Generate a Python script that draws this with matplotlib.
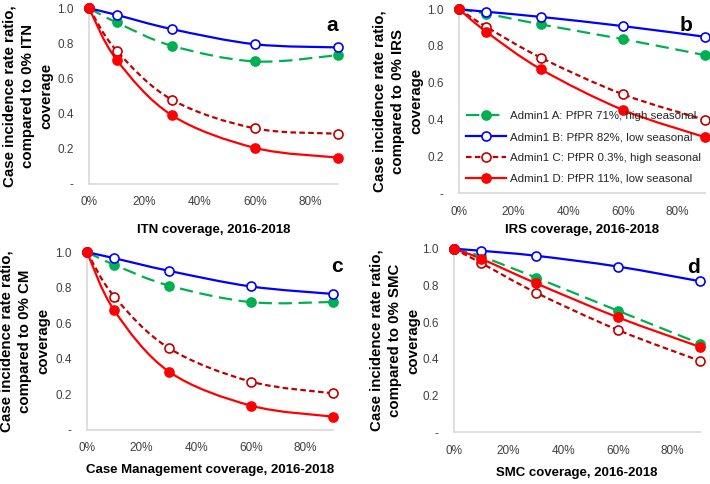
import numpy as np
import matplotlib
matplotlib.use("Agg")
import matplotlib.pyplot as plt
from matplotlib.path import Path
from matplotlib.patches import PathPatch
from matplotlib.lines import Line2D
from matplotlib.ticker import FuncFormatter

plt.rcParams["font.family"] = ["Liberation Sans", "DejaVu Sans"]

# coverage levels
coverage = [0.0, 0.1, 0.3, 0.6, 0.9]

# ITN (panel a)
itn_a = [1.0, 0.919, 0.786, 0.697, 0.733]
itn_b = [1.0, 0.962, 0.881, 0.795, 0.777]
itn_c = [1.0, 0.758, 0.479, 0.316, 0.286]
itn_d = [1.0, 0.706, 0.390, 0.205, 0.150]

# IRS (panel b)
irs_a = [1.0, 0.976, 0.917, 0.837, 0.750]
irs_b = [1.0, 0.986, 0.958, 0.908, 0.850]
irs_c = [1.0, 0.904, 0.736, 0.537, 0.398]
irs_d = [1.0, 0.877, 0.673, 0.452, 0.304]

# Case management (panel c)
cm_a = [1.0, 0.929, 0.812, 0.719, 0.720]
cm_b = [1.0, 0.966, 0.895, 0.807, 0.765]
cm_c = [1.0, 0.750, 0.460, 0.272, 0.206]
cm_d = [1.0, 0.672, 0.328, 0.137, 0.075]

# SMC (panel d)
smc_a = [1.0, 0.958, 0.843, 0.662, 0.483]
smc_b = [1.0, 0.989, 0.962, 0.903, 0.823]
smc_c = [1.0, 0.922, 0.761, 0.557, 0.389]
smc_d = [1.0, 0.945, 0.812, 0.626, 0.465]

labels = ["Admin1 A: PfPR 71%, high seasonal",
          "Admin1 B: PfPR 82%, low seasonal",
          "Admin1 C: PfPR 0.3%, high seasonal",
          "Admin1 D: PfPR 11%, low seasonal"]

styles = [
    dict(color="#00B050", ls=(0, (6, 3)), mfc="#00B050"),
    dict(color="#0000FF", ls="-", mfc="white"),
    dict(color="#C00000", ls=(0, (2.5, 1.5)), mfc="white"),
    dict(color="#FF0000", ls="-", mfc="#FF0000"),
]


def smooth_path(ax, xs, ys, color, ls):
    # Excel-like smoothed line: cubic Bezier through the points
    pts = np.column_stack([xs, ys])
    verts = [pts[0]]
    codes = [Path.MOVETO]
    n = len(pts)
    for i in range(n - 1):
        p0 = pts[i - 1] if i > 0 else pts[i]
        p1, p2 = pts[i], pts[i + 1]
        p3 = pts[i + 2] if i + 2 < n else pts[i + 1]
        c1 = p1 + (p2 - p0) / 6.0
        c2 = p2 - (p3 - p1) / 6.0
        verts += [c1, c2, p2]
        codes += [Path.CURVE4] * 3
    patch = PathPatch(Path(verts, codes), fill=False, edgecolor=color,
                      linestyle=ls, linewidth=1.6, clip_on=False)
    ax.add_patch(patch)


# rect, series, letter, short name, xlabel, ylabel x, xlabel y, letter pos
panels = [
    ([0.1254, 0.620, 0.3506, 0.363], [itn_a, itn_b, itn_c, itn_d], "a", "ITN",
     "ITN coverage, 2016-2018", -0.245, -0.26, (1.0, 0.90)),
    ([0.6465, 0.601, 0.3465, 0.380], [irs_a, irs_b, irs_c, irs_d], "b", "IRS",
     "IRS coverage, 2016-2018", -0.248, -0.20, (0.95, 0.913)),
    ([0.1225, 0.1116, 0.3465, 0.3674], [cm_a, cm_b, cm_c, cm_d], "c", "CM",
     "Case Management coverage, 2016-2018", -0.252, -0.225, (1.04, 0.92)),
    ([0.6394, 0.107, 0.3465, 0.379], [smc_a, smc_b, smc_c, smc_d], "d", "SMC",
     "SMC coverage, 2016-2018", -0.24, -0.224, (1.0, 0.896)),
]

fig = plt.figure(figsize=(7.1, 4.84), dpi=100)

for rect, series, letter, short, xlab, ylx, xly, lpos in panels:
    ax = fig.add_axes(rect)
    for ys, st in zip(series, styles):
        smooth_path(ax, coverage, ys, st["color"], st["ls"])
        ax.plot(coverage, ys, ls="none", marker="o", ms=6.5, mew=1.2,
                mec=st["color"], mfc=st["mfc"], clip_on=False, zorder=3)
    ax.set_xlim(0, 0.9)
    ax.set_ylim(0, 1.0)
    ax.set_xticks([0, 0.2, 0.4, 0.6, 0.8])
    ax.set_yticks([0, 0.2, 0.4, 0.6, 0.8, 1.0])
    ax.xaxis.set_major_formatter(FuncFormatter(lambda v, p: f"{v * 100:.0f}%"))
    ax.yaxis.set_major_formatter(
        FuncFormatter(lambda v, p: "-" if abs(v) < 1e-9 else f"{v:.1f}"))
    ax.tick_params(length=0, labelsize=8.5, colors="#404040")
    ax.tick_params(axis="y", pad=11)
    ax.tick_params(axis="x", pad=9)
    for s in ["top", "right"]:
        ax.spines[s].set_visible(False)
    for s in ["left", "bottom"]:
        ax.spines[s].set_color("#d9d9d9")
        ax.spines[s].set_linewidth(1.2)
    ax.set_ylabel(f"Case incidence rate ratio,\ncompared to 0% {short}\ncoverage",
                  fontsize=10.8, fontweight="bold", linespacing=1.4, va="center")
    ax.yaxis.set_label_coords(ylx, 0.5)
    ax.set_xlabel(xlab, fontsize=9.5, fontweight="bold", va="center")
    ax.xaxis.set_label_coords(0.5, xly)
    ax.text(lpos[0], lpos[1], letter, transform=ax.transAxes, ha="right",
            va="center", fontsize=15, fontweight="bold")
    ax.patch.set_alpha(0)

    if letter == "b":
        handles = [Line2D([], [], color=st["color"], ls=st["ls"], lw=1.6,
                          marker="o", ms=6.5, mew=1.2, mec=st["color"],
                          mfc=st["mfc"]) for st in styles]
        ax.legend(handles, labels, loc="lower left", bbox_to_anchor=(-0.01, 0.0),
                  frameon=False, fontsize=8.25, handlelength=3.5,
                  handletextpad=0.4, labelspacing=0.95, borderpad=0.3,
                  labelcolor="#262626")

fig.savefig("out.png", dpi=100)
